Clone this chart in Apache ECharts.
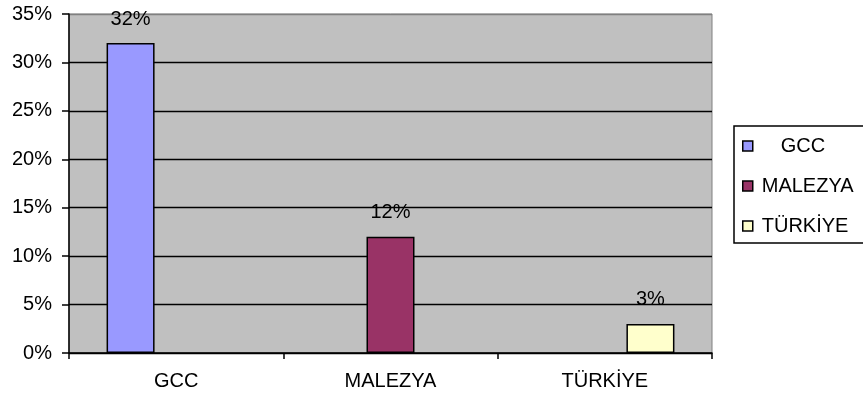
<!DOCTYPE html>
<html>
<head>
<meta charset="utf-8">
<script src="https://cdn.jsdelivr.net/npm/echarts@6/dist/echarts.min.js"></script>
<style>
  html, body { margin: 0; padding: 0; background: #fff; }
  #chart { width: 863px; height: 399px; }
</style>
</head>
<body>
<div id="chart"></div>
<script>
// Share by region (percent)
const categories = ['GCC', 'MALEZYA', 'TÜRKİYE'];
const seriesNames = ['GCC', 'MALEZYA', 'TÜRKİYE'];
const gccValues = [32, '-', '-'];
const malezyaValues = ['-', 12, '-'];
const turkiyeValues = ['-', '-', 3];
const yTicks = [0, 5, 10, 15, 20, 25, 30, 35];

const colors = ['#9999FF', '#993366', '#FFFFCC'];
const font = 'Arial, "Liberation Sans", sans-serif';
const fs = 20;

function makeSeries(name, data, color) {
  return {
    name: name,
    type: 'bar',
    data: data,
    barWidth: 48,
    barGap: '-5%',
    itemStyle: { color: color, borderColor: '#000', borderWidth: 1.5 },
    label: {
      show: true,
      position: 'top',
      distance: 14,
      formatter: '{c}%',
      color: '#000',
      fontFamily: font,
      fontSize: fs
    },
    emphasis: { disabled: true }
  };
}

const chart = echarts.init(document.getElementById('chart'));
chart.setOption({
  animation: false,
  grid: {
    left: 69, top: 14, right: 151, bottom: 46,
    show: true,
    backgroundColor: '#C0C0C0',
    borderColor: '#808080',
    borderWidth: 1
  },
  legend: {
    orient: 'vertical',
    left: 734, top: 126,
    padding: [10, 12, 7, 8],
    itemGap: 20,
    itemWidth: 10, itemHeight: 10,
    borderColor: '#000', borderWidth: 1.5,
    backgroundColor: '#fff',
    icon: 'rect',
    data: seriesNames,
    formatter: function (n) { return n === 'GCC' ? '{g|GCC}' : n; },
    textStyle: {
      fontFamily: font, fontSize: fs, color: '#000', padding: [0, 0, 0, 4],
      rich: { g: { fontFamily: font, fontSize: fs, color: '#000', padding: [0, 0, 0, 19] } }
    },
    itemStyle: { borderColor: '#000', borderWidth: 1.5 }
  },
  xAxis: {
    type: 'category',
    data: categories,
    axisLine: { lineStyle: { color: '#000', width: 1.5 } },
    axisTick: { show: true, length: 6, lineStyle: { color: '#000', width: 1.5 } },
    axisLabel: { color: '#000', fontFamily: font, fontSize: fs, margin: 18 }
  },
  yAxis: {
    type: 'value',
    min: yTicks[0],
    max: yTicks[yTicks.length - 1],
    interval: 5,
    axisLine: { show: true, lineStyle: { color: '#000', width: 1.5 } },
    axisTick: { show: true, length: 7, lineStyle: { color: '#000', width: 1.5 } },
    axisLabel: { color: '#000', fontFamily: font, fontSize: fs, margin: 17, formatter: '{value}%' },
    splitLine: {
      show: true,
      lineStyle: { color: ['#000', '#000', '#000', '#000', '#000', '#000', '#000', '#808080'], width: 1.3 }
    }
  },
  series: [
    makeSeries(seriesNames[0], gccValues, colors[0]),
    makeSeries(seriesNames[1], malezyaValues, colors[1]),
    makeSeries(seriesNames[2], turkiyeValues, colors[2])
  ]
});
</script>
</body>
</html>
